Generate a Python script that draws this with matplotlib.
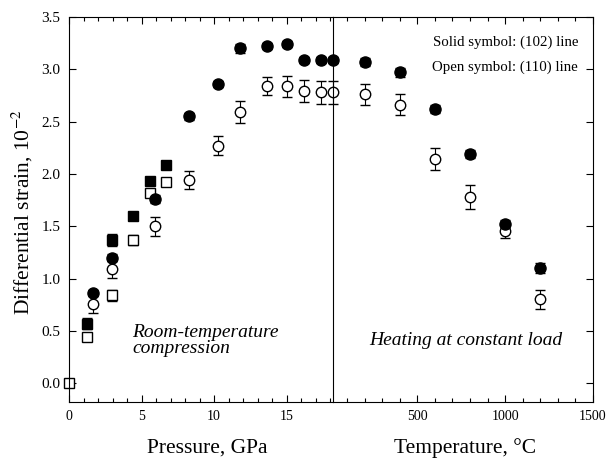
import numpy as np
import matplotlib
matplotlib.use("Agg")
import matplotlib.pyplot as plt
from matplotlib.ticker import MultipleLocator

plt.rcParams['font.family'] = ['Liberation Serif', 'DejaVu Serif']
plt.rcParams['mathtext.fontset'] = 'stix'

# room-temperature compression, pressure in GPa
p_sq = [1.22, 2.94, 4.38, 5.57, 6.68]
sq_solid = [0.57, 1.37, 1.60, 1.93, 2.09]
sq_solid_err = [0.05, 0.06, 0.03, 0.03, 0.03]
p_sq_open = [0.0, 1.22, 2.94, 4.38, 5.57, 6.68]
sq_open = [0.0, 0.44, 0.84, 1.37, 1.82, 1.92]
sq_open_err = [0.0, 0.04, 0.05, 0.05, 0.03, 0.02]

p_circ = [1.67, 2.94, 5.92, 8.28, 10.25, 11.77, 13.67, 15.05, 16.17, 17.39, 18.19]
circ_solid = [0.86, 1.20, 1.76, 2.55, 2.86, 3.20, 3.22, 3.24, 3.09, 3.09, 3.09]
circ_solid_err = [0.03, 0.03, 0.04, 0.03, 0.03, 0.04, 0.03, 0.03, 0.03, 0.03, 0.03]
circ_open = [0.76, 1.09, 1.50, 1.94, 2.27, 2.59, 2.84, 2.84, 2.79, 2.78, 2.78]
circ_open_err = [0.09, 0.08, 0.09, 0.085, 0.09, 0.105, 0.087, 0.1, 0.105, 0.11, 0.11]

# heating at constant load, temperature in C
temp = [200, 400, 600, 800, 1000, 1200]
heat_solid = [3.07, 2.97, 2.62, 2.19, 1.52, 1.10]
heat_solid_err = [0.04, 0.04, 0.04, 0.04, 0.04, 0.05]
heat_open = [2.76, 2.66, 2.14, 1.78, 1.45, 0.80]
heat_open_err = [0.1, 0.1, 0.107, 0.116, 0.06, 0.09]

fig = plt.figure(figsize=(6.08, 4.62), dpi=100)
ax1 = fig.add_axes([69/608, 1-402/462, (333-69)/608, (402-17)/462])
ax2 = fig.add_axes([333/608, 1-402/462, (593-333)/608, (402-17)/462])
ax2.set_facecolor('none')

eb = dict(ls='none', ecolor='black', elinewidth=0.8, capsize=3.5, capthick=0.8,
          markeredgecolor='black', markeredgewidth=1.0, clip_on=False)

ax1.errorbar(p_sq, sq_solid, yerr=sq_solid_err, marker='s', ms=6.5, mfc='black', **eb)
ax1.errorbar(p_sq_open, sq_open, yerr=sq_open_err, marker='s', ms=6.5, mfc='white', **eb)
ax1.errorbar(p_circ, circ_open, yerr=circ_open_err, marker='o', ms=7.5, mfc='white', **eb)
ax1.errorbar(p_circ, circ_solid, yerr=circ_solid_err, marker='o', ms=8, mfc='black', **eb)

ax2.errorbar(temp, heat_open, yerr=heat_open_err, marker='o', ms=7.5, mfc='white', **eb)
ax2.errorbar(temp, heat_solid, yerr=heat_solid_err, marker='o', ms=8, mfc='black', **eb)

for ax in (ax1, ax2):
    ax.set_ylim(-0.18, 3.5)
    ax.tick_params(which='both', direction='in', top=True)
    ax.tick_params(axis='x', labelsize=10, pad=6)
    ax.tick_params(axis='y', labelsize=11, pad=6)
    ax.tick_params(which='major', length=5, width=0.8)
    ax.tick_params(which='minor', length=3, width=0.8)
    ax.yaxis.set_major_locator(MultipleLocator(0.5))
    for s in ax.spines.values():
        s.set_linewidth(0.8)

ax1.set_xlim(0, 18.19)
ax1.xaxis.set_major_locator(MultipleLocator(5))
ax1.xaxis.set_minor_locator(MultipleLocator(1))
ax1.yaxis.set_major_formatter(matplotlib.ticker.FormatStrFormatter('%.1f'))
ax1.tick_params(axis='y', right=False)
ax1.spines['right'].set_visible(False)

ax2.set_xlim(20, 1500)
ax2.set_xticks([500, 1000, 1500])
ax2.xaxis.set_minor_locator(MultipleLocator(100))
ax2.tick_params(axis='y', left=False, right=True, labelleft=False)

ax2.text(0.943, 0.935, 'Solid symbol: (102) line', transform=ax2.transAxes,
         ha='right', va='center', fontsize=10.7)
ax2.text(0.943, 0.87, 'Open symbol: (110) line', transform=ax2.transAxes,
         ha='right', va='center', fontsize=10.7)
ax1.text(0.24, 0.16, 'Room-temperature\ncompression', transform=ax1.transAxes,
         ha='left', va='center', fontsize=14, style='italic', linespacing=0.9)
ax2.text(0.51, 0.16, 'Heating at constant load', transform=ax2.transAxes,
         ha='center', va='center', fontsize=14, style='italic')

fig.text(207/608, 1-448/462, 'Pressure, GPa', ha='center', va='center', fontsize=15.5)
fig.text(465/608, 1-448/462, 'Temperature, \u00b0C', ha='center', va='center', fontsize=15.5)
fig.text(22/608, 1-212/462, r'Differential strain, 10$^{-2}$', ha='center', va='center',
         rotation=90, fontsize=15.5)

fig.savefig('out.png', dpi=100)
